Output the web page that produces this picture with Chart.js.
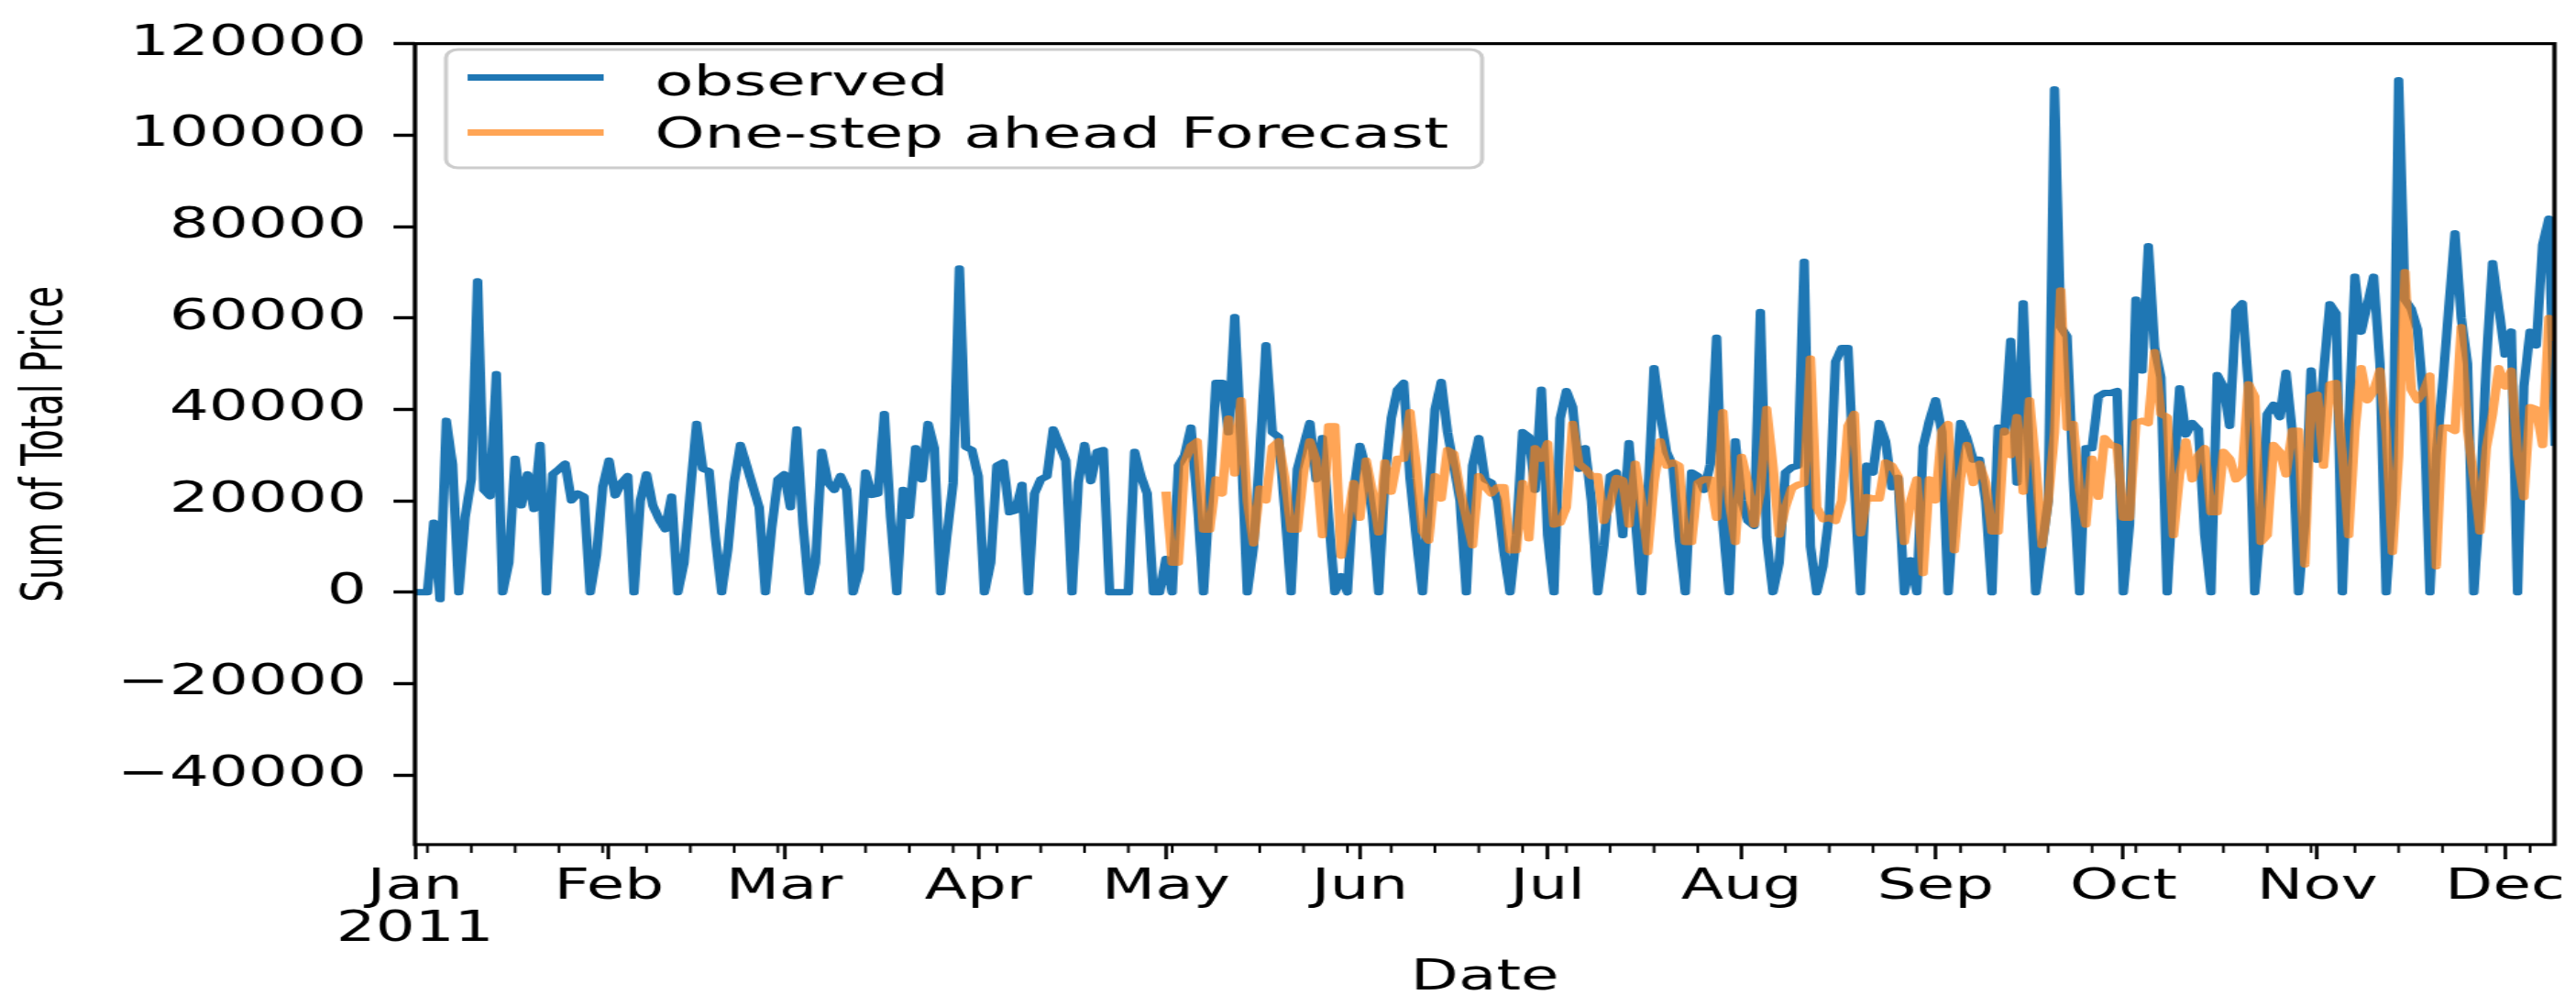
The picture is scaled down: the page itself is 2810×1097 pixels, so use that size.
<!DOCTYPE html>
<html>
<head>
<meta charset="utf-8">
<title>Sum of Total Price - observed vs forecast</title>
<script src="https://cdn.jsdelivr.net/npm/chart.js@4.4.1/dist/chart.umd.min.js"></script>
<style>
  html, body { margin: 0; padding: 0; background: #ffffff; overflow: hidden; }
  /* the source figure is stretched sideways, so the canvas is too */
  #wrap { width: 1912px; height: 1097px; transform: scaleX(1.4697); transform-origin: 0 0; }
  canvas { display: block; }
</style>
</head>
<body>
<div id="wrap"><canvas id="forecastChart" width="1912" height="1097"></canvas></div>
<script>
// daily totals, index 0 = 2011-01-01
const observed = [
  0, 0, 0, 15200, -1500, 37500, 28000,
  0, 16300, 24700, 68000, 22400, 21000, 47700,
  0, 6500, 29200, 19000, 25800, 18200, 32200,
  0, 25800, 26900, 28100, 20100, 21600, 20900,
  0, 8000, 23000, 28800, 21200, 23900, 25400,
  0, 20000, 25800, 19000, 16000, 13800, 20900,
  0, 6500, 22000, 36800, 27000, 26500, 12000,
  0, 9500, 23900, 32200, 27700, 23100, 18600,
  0, 14000, 24700, 25800, 18600, 35600, 15000,
  0, 6500, 30700, 24000, 22400, 25400, 22400,
  0, 5000, 26200, 21300, 21600, 39000, 16300,
  0, 22400, 16700, 31500, 24700, 36800, 31500,
  0, 12500, 23900, 70800, 31800, 31100, 25400,
  0, 6500, 27700, 28400, 17500, 17900, 23500,
  0, 21600, 24700, 25400, 35600, 32200, 28800,
  0, 24000, 32200, 24300, 30700, 31100, 0,
  0, 0, 0, 30700, 25400, 21600, 0,
  0, 7300, 0, 27700, 30000, 36000, 20000,
  0, 21600, 45800, 45800, 35000, 60200, 33000,
  0, 10000, 30000, 54000, 35000, 34000, 18000,
  0, 26900, 32000, 37000, 24700, 33700, 16300,
  0, 3500, 0, 22000, 32000, 27000, 17000,
  0, 25000, 38000, 44300, 45800, 25000, 12000,
  0, 20000, 40000, 46000, 35000, 27700, 20000,
  0, 27700, 33700, 24700, 24000, 20000, 8800,
  0, 12500, 35000, 34000, 22400, 44300, 12500,
  0, 38000, 44000, 40500, 27000, 31500, 20000,
  0, 10300, 25400, 26200, 12500, 32600, 16300,
  0, 20000, 49000, 39000, 30700, 27700, 12000,
  0, 26200, 25400, 22400, 28000, 55700, 15000,
  0, 33000, 20100, 15600, 14500, 61300, 12000,
  0, 6500, 26200, 27300, 27700, 72300, 10000,
  0, 5700, 17100, 50400, 53400, 53400, 24000,
  0, 27700, 26200, 37000, 33000, 23000, 25000,
  0, 7000, 0, 31800, 37500, 42000, 35000,
  0, 20000, 37000, 33700, 29000, 29000, 20000,
  0, 36000, 35000, 55000, 24000, 63200, 27700,
  0, 10000, 20000, 110000, 58000, 56000, 25000,
  0, 31500, 31500, 42800, 43600, 43600, 44000,
  0, 15000, 64000, 48500, 75700, 53600, 47000,
  0, 23900, 44600, 34500, 37000, 35600, 12500,
  0, 47500, 45000, 36400, 61700, 63200, 45000,
  0, 16300, 39000, 41000, 38300, 48000, 35000,
  0, 15000, 48500, 29000, 48000, 63000, 61000,
  0, 35000, 69000, 57000, 63000, 69000, 50000,
  0, 20000, 112000, 64000, 62000, 57500, 42000,
  0, 30000, 45000, 62000, 78500, 60000, 50000,
  0, 20000, 50000, 72000, 62000, 52000, 57000,
  0, 45000, 57000, 54000, 76000, 81700, 32000
];

// one-step ahead forecast starts on 2011-05-01 (day 120)
const forecastStart = 120;
const forecast = [
  22000, 6500, 6500, 28400, 32000, 33000, 13700,
  13700, 24700, 21600, 38000, 26000, 42000, 20000,
  10700, 22700, 20100, 31800, 33000, 25000, 13700,
  13700, 26200, 33000, 29000, 12500, 36300, 36300,
  8000, 15200, 23900, 16300, 28800, 22000, 13100,
  28400, 22000, 29200, 29200, 39400, 27700, 13300,
  11300, 25400, 20500, 31100, 30300, 22400, 16300,
  10300, 25400, 23100, 21600, 23000, 23000, 9200,
  9200, 23900, 11800, 31500, 29200, 32600, 14800,
  15200, 18600, 36800, 28100, 27000, 25400, 25400,
  15600, 19400, 25000, 24500, 14800, 28100, 20000,
  8800, 23900, 33000, 27700, 28400, 27700, 11000,
  11000, 23900, 24700, 24700, 16300, 39400, 20000,
  11000, 29600, 24000, 14800, 22000, 40100, 27700,
  12600, 18600, 22700, 23500, 23900, 51100, 18600,
  16000, 16300, 15600, 20100, 36400, 39000, 12900,
  20800, 20500, 20500, 28400, 27700, 25400, 11000,
  20000, 24700, 4200, 24700, 20100, 35300, 36800,
  9200, 25000, 32200, 23900, 28100, 24000, 13300,
  13300, 35300, 30000, 38300, 22000, 42000, 28000,
  10300, 20000, 35000, 66000, 36000, 36800, 22400,
  14800, 29200, 20900, 33700, 32200, 31800, 16300,
  16300, 37100, 37500, 37000, 52500, 39000, 38300,
  12500, 25800, 33000, 24700, 30000, 31500, 17500,
  17500, 30700, 29200, 24700, 26000, 45500, 42800,
  11000, 12500, 32200, 30700, 25800, 35300, 35300,
  6100, 42800, 43200, 27700, 45500, 45800, 30000,
  12500, 35000, 49000, 42000, 44000, 48500, 35000,
  8800, 30000, 70000, 44300, 42000, 44000, 47400,
  5700, 36000, 36000, 35300, 58000, 35300, 25000,
  13300, 31500, 39000, 49000, 45000, 48500, 30000,
  20800, 40500, 40000, 32200, 60000, 55000
];

// month ticks (day offsets from 2011-01-01)
const monthStarts = [0, 31, 59, 90, 120, 151, 181, 212, 243, 273, 304, 334];
const monthLabels = ['Jan', 'Feb', 'Mar', 'Apr', 'May', 'Jun', 'Jul', 'Aug', 'Sep', 'Oct', 'Nov', 'Dec'];
const yTicks = [-40000, -20000, 0, 20000, 40000, 60000, 80000, 100000, 120000];

const textFont = '"DejaVu Sans", sans-serif';

// minor ticks on mondays, spines box and the legend
const framePlugin = {
    id: 'frame',
    afterDraw(chart) {
        const { ctx, chartArea: a } = chart;
        const x = chart.scales.x;
        ctx.save();

        ctx.strokeStyle = '#000000';
        ctx.lineWidth = 2;
        ctx.beginPath();
        for (let d = 2; d <= x.max; d += 7) {
            if (monthStarts.includes(d)) continue;
            const px = x.getPixelForValue(d);
            ctx.moveTo(px, a.bottom);
            ctx.lineTo(px, a.bottom + 9);
        }
        ctx.stroke();

        ctx.lineWidth = 3.2;
        ctx.strokeRect(a.left, a.top, a.right - a.left, a.bottom - a.top);

        // legend box
        ctx.beginPath();
        ctx.roundRect(331, 54, 769, 129, 9);
        ctx.fillStyle = 'rgba(255,255,255,0.8)';
        ctx.fill();
        ctx.strokeStyle = '#cccccc';
        ctx.lineWidth = 3;
        ctx.stroke();

        const entries = chart.data.datasets.map((ds, i) => ({
            label: ds.label,
            color: ds.borderColor,
            lineY: i === 0 ? 84.6 : 144.5,
            baseY: i === 0 ? 104 : 161
        }));
        ctx.font = '47px ' + textFont;
        ctx.textBaseline = 'alphabetic';
        ctx.textAlign = 'left';
        entries.forEach(e => {
            ctx.strokeStyle = e.color;
            ctx.lineWidth = 7;
            ctx.beginPath();
            ctx.moveTo(347, e.lineY);
            ctx.lineTo(448, e.lineY);
            ctx.stroke();
            ctx.fillStyle = '#000000';
            ctx.fillText(e.label, 486, e.baseY);
        });

        ctx.restore();
    }
};

const ctx = document.getElementById('forecastChart').getContext('2d');

new Chart(ctx, {
    type: 'line',
    data: {
        datasets: [{
            label: 'observed',
            data: observed.map((v, i) => ({ x: i, y: v })),
            borderColor: '#1f77b4',
            borderWidth: 7,
            borderJoinStyle: 'round',
            pointRadius: 0,
            tension: 0,
            order: 1
        }, {
            label: 'One-step ahead Forecast',
            data: forecast.map((v, i) => ({ x: forecastStart + i, y: v })),
            borderColor: 'rgba(255,127,14,0.7)',
            borderWidth: 7,
            borderJoinStyle: 'round',
            pointRadius: 0,
            tension: 0,
            order: 0
        }]
    },
    options: {
        responsive: false,
        animation: false,
        devicePixelRatio: 1,
        layout: { padding: { top: 32, right: 9, left: 0, bottom: 0 } },
        plugins: {
            legend: { display: false },
            tooltip: { enabled: false }
        },
        scales: {
            x: {
                type: 'linear',
                min: 0,
                max: 341.9,
                afterBuildTicks: s => { s.ticks = monthStarts.map(v => ({ value: v })); },
                afterFit: s => { s.height = 176; },
                border: { display: false },
                grid: {
                    drawOnChartArea: false,
                    drawTicks: true,
                    tickLength: 16,
                    tickWidth: 2.6,
                    tickColor: '#000000'
                },
                ticks: {
                    autoSkip: false,
                    maxRotation: 0,
                    minRotation: 0,
                    padding: 8,
                    color: '#000000',
                    font: { family: textFont, size: 46, lineHeight: 1.0 },
                    callback: v => {
                        const k = monthStarts.indexOf(v);
                        if (k < 0) return '';
                        return k === 0 ? [monthLabels[0], '2011'] : monthLabels[k];
                    }
                },
                title: {
                    display: true,
                    text: 'Date',
                    color: '#000000',
                    font: { family: textFont, size: 46 },
                    padding: { top: 0, bottom: 2 }
                }
            },
            y: {
                min: -55200,
                max: 120000,
                afterBuildTicks: s => { s.ticks = yTicks.map(v => ({ value: v })); },
                afterFit: s => { s.width = 308; },
                border: { display: false },
                grid: {
                    drawOnChartArea: false,
                    drawTicks: true,
                    tickLength: 16,
                    tickWidth: 3.5,
                    tickColor: '#000000'
                },
                ticks: {
                    padding: 20,
                    color: '#000000',
                    font: { family: textFont, size: 46 },
                    callback: v => (v < 0 ? '\u2212' + Math.abs(v) : String(v))
                },
                title: {
                    display: true,
                    text: 'Sum of Total Price',
                    color: '#000000',
                    font: { family: '"DejaVu Sans Condensed", "Liberation Sans Narrow", sans-serif', size: 43 },
                    padding: { top: 9, bottom: 0 }
                }
            }
        }
    },
    plugins: [framePlugin]
});
</script>
</body>
</html>
